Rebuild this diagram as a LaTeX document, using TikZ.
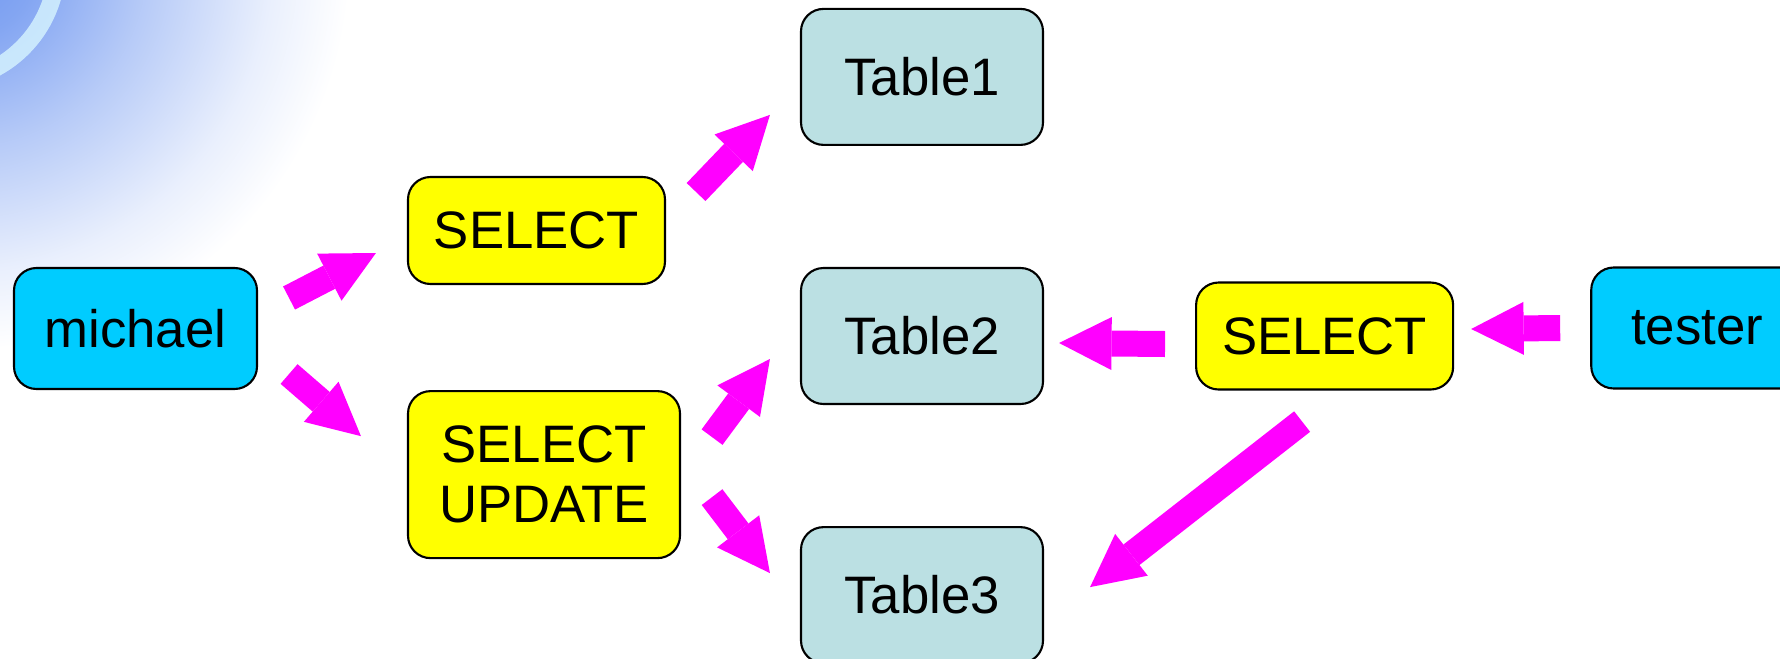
\documentclass[tikz,border=0pt]{standalone}
\usepackage{fontspec}
\setmainfont{Liberation Sans}
\usetikzlibrary{positioning, arrows.meta}
\definecolor{mycyan}{RGB}{0,204,255}
\definecolor{myyellow}{RGB}{255,255,0}
\definecolor{mytable}{RGB}{187,224,227}
\definecolor{mymagenta}{RGB}{255,0,255}
\definecolor{bgblue}{RGB}{110,150,240}
\definecolor{bgring}{RGB}{215,245,255}
\pgfdeclareradialshading{cornerglow}{\pgfpoint{0bp}{0bp}}{color(0bp)=(bgblue); color(5bp)=(bgblue!85!white); color(12bp)=(bgblue!50!white); color(20bp)=(bgblue!15!white); color(25bp)=(white); color(50bp)=(white)}

\begin{document}
\begin{tikzpicture}[
    font=\fontsize{30}{34}\selectfont,
    user/.style={rectangle, rounded corners=0.45cm, draw=black, line width=1.2pt, fill=mycyan, minimum width=4.86cm, minimum height=2.42cm, align=center},
    priv/.style={rectangle, rounded corners=0.45cm, draw=black, line width=1.2pt, fill=myyellow, minimum width=5.14cm, minimum height=2.14cm, align=center},
    tbl/.style={rectangle, rounded corners=0.45cm, draw=black, line width=1.2pt, fill=mytable, minimum width=4.84cm, minimum height=2.72cm, align=center},
    arrow/.style={draw=mymagenta, line width=0.52cm, -{Triangle[length=1.05cm, width=1.06cm, line width=0pt]}}
]

% Background
\useasboundingbox (0,0) rectangle (35.6,-13.16);
\begin{scope}
\clip (0,0) rectangle (35.6,-13.16);
\shade[shading=cornerglow] (-0.8,0.8) circle (7.8);
\draw[bgring, line width=0.35cm, opacity=0.8] (-1.2,0.7) circle (2.34);
\end{scope}

% Tables
\node[tbl] (table2) at (18.44,-6.72) {Table2};
\node[tbl, above=2.42cm of table2] (table1) {Table1};
\node[tbl, below=2.42cm of table2] (table3) {Table3};

% Users and privileges
\node[user] (michael) at (2.71,-6.57) {michael};
\node[priv] (select1) at (10.73,-4.61) {SELECT};
\node[priv, below=2.1cm of select1.south west, anchor=north west, minimum width=5.44cm, minimum height=3.34cm] (selupd) {SELECT\\UPDATE};
\node[priv, right=3.02cm of table2] (select2) {SELECT};
\node[user, right=2.72cm of select2, yshift=0.16cm, minimum width=4.24cm] (tester) {tester};

% Arrows
\draw[arrow] ([shift={(0.62,0.61)}]michael.east) -- ([shift={(-0.62,-0.45)}]select1.west);
\draw[arrow] ([shift={(0.62,-0.91)}]michael.east) -- ([shift={(-0.92,0.77)}]selupd.west);
\draw[arrow] ([shift={(0.60,0.77)}]select1.east) -- ([shift={(-0.60,-0.76)}]table1.west);
\draw[arrow] ([shift={(0.62,0.75)}]selupd.east) -- ([shift={(-0.60,-0.46)}]table2.west);
\draw[arrow] ([shift={(0.62,-0.45)}]selupd.east) -- ([shift={(-0.60,0.44)}]table3.west);
\draw[arrow] ([shift={(-0.60,-0.16)}]select2.west) -- ([shift={(0.30,-0.14)}]table2.east);
\draw[arrow] ([shift={(-0.60,0)}]tester.west) -- ([shift={(0.34,0.14)}]select2.east);
\draw[arrow] ([shift={(-0.45,-0.62)}]select2.south) -- ([shift={(0.92,0.16)}]table3.east);

\end{tikzpicture}
\end{document}
